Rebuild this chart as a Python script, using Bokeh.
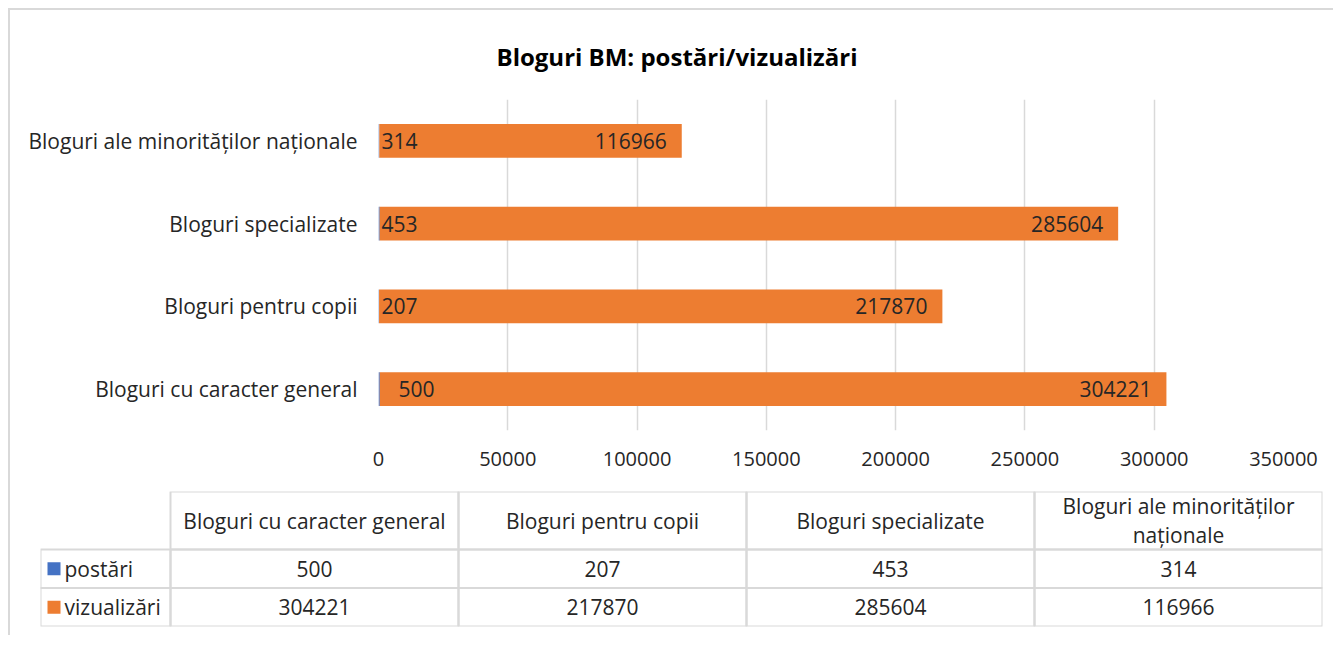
from bokeh.plotting import figure
from bokeh.models import (Range1d, FactorRange, SingleIntervalTicker, Title,
                          ColumnDataSource, NumeralTickFormatter)
from bokeh.layouts import column, row
from bokeh.embed import file_html
from bokeh.resources import INLINE
from bokeh.core.properties import value

# ---- data ----
categories = ["Bloguri cu caracter general", "Bloguri pentru copii",
              "Bloguri specializate", "Bloguri ale minorităților naționale"]
series_names = ["postări", "vizualizări"]
postari = [500, 207, 453, 314]
vizualizari = [304221, 217870, 285604, 116966]
title_text = "Bloguri BM: postări/vizualizări"

# ---- styles ----
FONT = "Open Sans"
TXT = "#262626"
GRID = "#d9d9d9"
BLUE = "#4472C4"
ORANGE = "#ED7D31"
FS = "20px"
FS_L = "21px"

W = 1323

# ================= chart =================
p1 = figure(width=W, height=470, output_backend="svg", toolbar_location=None,
            x_range=Range1d(0, 350000), y_range=FactorRange(*categories),
            min_border_left=368, min_border_right=50, min_border_top=87,
            min_border_bottom=50, title=None)
p1.outline_line_color = None
p1.background_fill_color = "white"
p1.border_fill_color = "white"

src = ColumnDataSource(dict(cat=categories, postari=postari, viz=vizualizari,
                            total=[a + b for a, b in zip(postari, vizualizari)],
                            zero=[0] * len(categories),
                            plab=[str(v) for v in postari],
                            vlab=[str(v) for v in vizualizari],
                            pdx=[20, 3, 3, 3]))
p1.hbar(y="cat", left="zero", right="postari", height=0.41, source=src,
        fill_color=BLUE, line_color=None)
p1.hbar(y="cat", left="postari", right="total", height=0.41, source=src,
        fill_color=ORANGE, line_color=None)

p1.text(x="zero", y="cat", text="plab", source=src, x_offset="pdx",
        text_align="left", text_baseline="middle", text_font=value(FONT),
        text_font_size=FS_L, text_color=TXT)
p1.text(x="total", y="cat", text="vlab", source=src, x_offset=-15,
        text_align="right", text_baseline="middle", text_font=value(FONT),
        text_font_size=FS_L, text_color=TXT)

xa = p1.xaxis[0]
xa.ticker = SingleIntervalTicker(interval=50000)
xa.formatter = NumeralTickFormatter(format="0")
xa.axis_line_color = None
xa.major_tick_line_color = None
xa.minor_tick_line_color = None
xa.major_label_text_font = FONT
xa.major_label_text_font_size = FS
xa.major_label_text_color = TXT
xa.major_label_standoff = 15

ya = p1.yaxis[0]
ya.axis_line_color = None
ya.major_tick_line_color = None
ya.minor_tick_line_color = None
ya.major_label_text_font = FONT
ya.major_label_text_font_size = FS_L
ya.major_label_text_color = TXT
ya.major_label_standoff = 15

p1.xgrid.grid_line_color = GRID
p1.xgrid.grid_line_width = 1.5
p1.ygrid.grid_line_color = None

p1.add_layout(Title(text=title_text, align="left", offset=118,
                    text_font=FONT, text_font_size="24px", text_font_style="bold",
                    text_color="#000000", standoff=54), "above")

# ================= data table =================
LEG_W = 130
COL_W = 288
H_HDR = 58
H_ROW = 38.5
table_w = LEG_W + COL_W * len(categories)
table_h = H_HDR + H_ROW * len(series_names)
TBL_TOP = 11
TBL_LEFT = 30
H2 = 155

p2 = figure(width=W, height=H2, output_backend="svg", toolbar_location=None,
            x_range=Range1d(0, table_w), y_range=Range1d(0, table_h),
            min_border_left=TBL_LEFT, min_border_right=int(W - TBL_LEFT - table_w),
            min_border_top=TBL_TOP, min_border_bottom=int(H2 - TBL_TOP - table_h))
p2.outline_line_color = None
p2.axis.visible = False
p2.grid.visible = False

# header cells
hx0 = [LEG_W + i * COL_W for i in range(len(categories))]
hdr = ColumnDataSource(dict(
    left=hx0, right=[x + COL_W for x in hx0],
    bottom=[table_h - H_HDR] * len(categories), top=[table_h] * len(categories),
    xc=[x + COL_W / 2 for x in hx0], yc=[table_h - H_HDR / 2] * len(categories),
    txt=[c if len(c) < 30 else c.rsplit(" ", 1)[0] + "\n" + c.rsplit(" ", 1)[1]
         for c in categories]))
p2.quad(left="left", right="right", bottom="bottom", top="top", source=hdr,
        fill_color=None, line_color=GRID, line_width=2)
p2.text(x="xc", y="yc", text="txt", source=hdr, text_align="center",
        text_baseline="middle", text_font=value(FONT), text_font_size=FS_L,
        text_color=TXT, text_line_height=1.05)

series_vals = [postari, vizualizari]
series_cols = [BLUE, ORANGE]
for r, (name, vals, col) in enumerate(zip(series_names, series_vals, series_cols)):
    top = table_h - H_HDR - r * H_ROW
    bot = top - H_ROW
    # legend cell
    p2.quad(left=[0], right=[LEG_W], bottom=[bot], top=[top],
            fill_color=None, line_color=GRID, line_width=2)
    p2.scatter(x=[13.5], y=[(top + bot) / 2], marker="square", size=13,
               fill_color=col, line_color=None)
    p2.text(x=[24], y=[(top + bot) / 2], text=[name], text_align="left",
            text_baseline="middle", text_font=value(FONT), text_font_size=FS_L,
            text_color=TXT)
    # value cells
    vs = ColumnDataSource(dict(
        left=hx0, right=[x + COL_W for x in hx0],
        bottom=[bot] * len(vals), top=[top] * len(vals),
        xc=[x + COL_W / 2 for x in hx0], yc=[(top + bot) / 2] * len(vals),
        txt=[str(v) for v in vals]))
    p2.quad(left="left", right="right", bottom="bottom", top="top", source=vs,
            fill_color=None, line_color=GRID, line_width=2)
    p2.text(x="xc", y="yc", text="txt", source=vs, text_align="center",
            text_baseline="middle", text_font=value(FONT), text_font_size=FS_L,
            text_color=TXT)

layout = column(row(p1), row(p2), spacing=0,
                styles={"margin-left": "8px", "margin-top": "8px",
                        "border-left": "2px solid #d9d9d9",
                        "border-top": "2px solid #d9d9d9"})

open("out.html", "w").write(file_html(layout, INLINE))
